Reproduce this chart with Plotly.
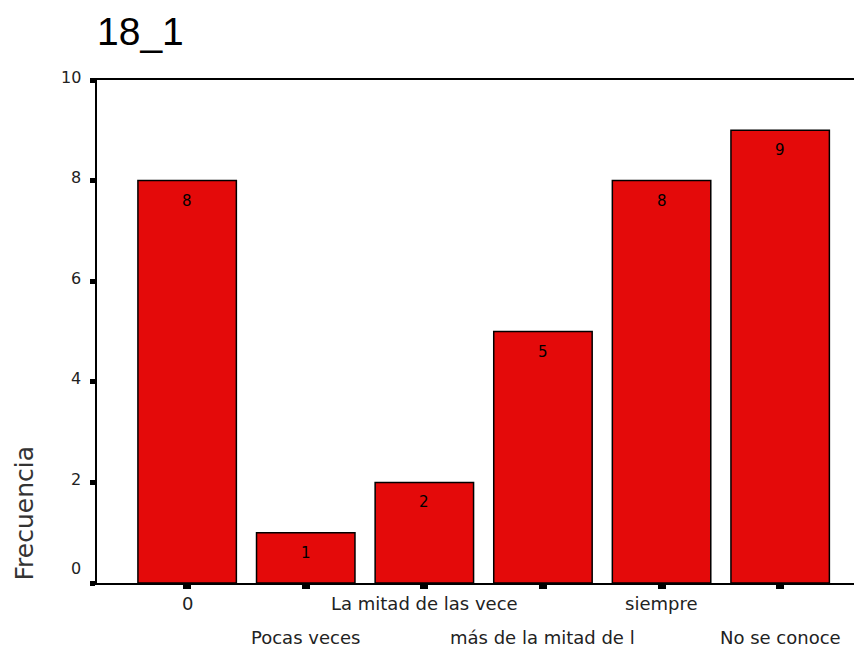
import plotly.graph_objects as go

# datos de la pregunta 18_1
categorias = ["0", "Pocas veces", "La mitad de las vece", "más de la mitad de l", "siempre", "No se conoce"]
frecuencias = [8, 1, 2, 5, 8, 9]
y_ticks = [0, 2, 4, 6, 8, 10]

fuente = "DejaVu Sans"
x_pos = list(range(len(categorias)))

fig = go.Figure(go.Bar(
    x=x_pos,
    y=frecuencias,
    marker=dict(color="rgb(228,10,10)", line=dict(color="black", width=1.5)),
    hoverinfo="x+y",
))

anotaciones = []
# etiquetas dentro de las barras
for i, v in zip(x_pos, frecuencias):
    anotaciones.append(dict(x=i, y=v, xref="x", yref="y", text=str(v), showarrow=False,
                            yanchor="top", yshift=-9,
                            font=dict(family=fuente, size=15, color="black")))
# etiquetas del eje x en dos filas (como SPSS)
for i, c in zip(x_pos, categorias):
    fila = i % 2
    anotaciones.append(dict(x=i, y=0, xref="x", yref="y", text=c, showarrow=False,
                            yanchor="middle", yshift=-20 if fila == 0 else -54,
                            font=dict(family=fuente, size=18, color="#222")))
# etiquetas del eje y
for v in y_ticks:
    anotaciones.append(dict(x=0, y=v, xref="paper", yref="y", text=str(v), showarrow=False,
                            xanchor="right", xshift=-14, yshift=15 if v == 0 else 3,
                            font=dict(family=fuente, size=16, color="#222")))
# titulo del eje y
anotaciones.append(dict(x=0, y=0, xref="paper", yref="paper", text="Frecuencia", showarrow=False,
                        textangle=-90, xanchor="center", yanchor="bottom", xshift=-73,
                        font=dict(family=fuente, size=25, color="#333")))

# la pagina tiene 8px de margen en body
fig.update_layout(
    width=854, height=640,
    margin=dict(l=89, r=0, t=72, b=65),
    paper_bgcolor="white", plot_bgcolor="white",
    bargap=0.17,
    showlegend=False,
    title=dict(text="18_1", xref="paper", x=0, xanchor="left",
               yref="container", y=1 - 23 / 640, yanchor="middle",
               font=dict(family="Liberation Sans", size=39, color="black")),
    annotations=anotaciones,
)
fig.update_xaxes(range=[-0.76, 5.69], showline=True, linecolor="black", linewidth=2, mirror=True,
                 ticks="outside", tickvals=x_pos, ticklen=4, tickwidth=8, tickcolor="black",
                 showticklabels=False, showgrid=False, zeroline=False)
fig.update_yaxes(range=[0, 10], showline=True, linecolor="black", linewidth=2,
                 ticks="outside", tickvals=y_ticks, ticklen=5, tickwidth=5, tickcolor="black",
                 showticklabels=False, showgrid=False, zeroline=False)

fig.write_html("out.html")
